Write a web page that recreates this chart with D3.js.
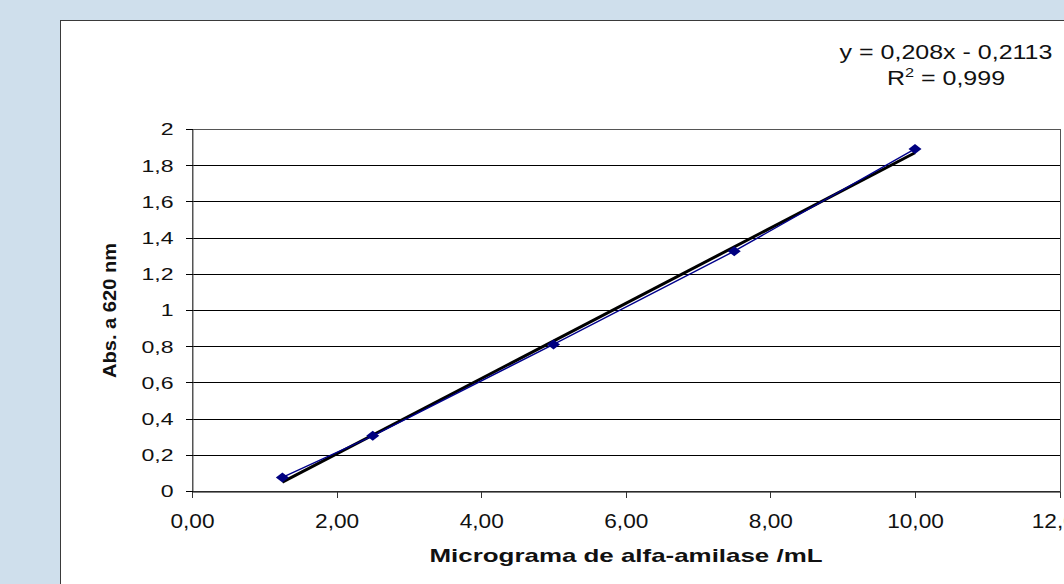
<!DOCTYPE html>
<html>
<head>
<meta charset="utf-8">
<script src="https://cdn.jsdelivr.net/npm/d3@7"></script>
<style>
  html, body { margin: 0; padding: 0; background: #cfdfec; }
  svg { display: block; font-family: "Liberation Sans", Arial, sans-serif; }
</style>
</head>
<body>
<svg id="chart" width="1064" height="584"></svg>
<script>
// Calibration curve: absorbance at 620 nm vs alpha-amylase concentration
const concentrations = [1.25, 2.5, 5, 7.5, 10];          // µg/mL
const absorbances    = [0.075, 0.305, 0.81, 1.325, 1.89];
const xTicks = [0, 2, 4, 6, 8, 10, 12];
const yTicks = [0, 0.2, 0.4, 0.6, 0.8, 1, 1.2, 1.4, 1.6, 1.8, 2];
const slope = 0.208;
const intercept = -0.2113;
const rSquared = 0.999;

const ptBR = d3.formatLocale({ decimal: ",", thousands: ".", grouping: [3], currency: ["", ""] });
const fmtY = ptBR.format("~g");
const fmtX = ptBR.format(".2f");
const fmtCoef = v => ptBR.format("~g")(v);

const svg = d3.select("#chart");

// chart area
svg.append("rect")
  .attr("x", 60.5).attr("y", 20.5)
  .attr("width", 1100).attr("height", 700)
  .attr("fill", "#ffffff")
  .attr("stroke", "#3a3a3a").attr("stroke-width", 1);

const plot = { left: 192, top: 129, right: 1059.6, bottom: 491 };

const x = d3.scaleLinear().domain([0, 12]).range([plot.left, plot.right]);
const y = d3.scaleLinear().domain([0, 2]).range([plot.bottom, plot.top]);

// horizontal gridlines
svg.append("g")
  .selectAll("line")
  .data(yTicks.filter(v => v > 0))
  .join("line")
  .attr("x1", plot.left).attr("x2", plot.right)
  .attr("y1", d => Math.round(y(d)) + 0.5).attr("y2", d => Math.round(y(d)) + 0.5)
  .attr("stroke", "#000").attr("stroke-width", 1)
  .attr("shape-rendering", "crispEdges");

// plot area border
svg.append("rect")
  .attr("x", plot.left + 0.5).attr("y", Math.round(plot.top) + 0.5)
  .attr("width", plot.right - plot.left).attr("height", plot.bottom - plot.top)
  .attr("fill", "none").attr("stroke", "#555").attr("stroke-width", 1)
  .attr("shape-rendering", "crispEdges");

// y axis
const yAxis = svg.append("g")
  .attr("transform", `translate(${plot.left + 0.5},0)`)
  .call(d3.axisLeft(y).tickValues(yTicks).tickFormat(fmtY).tickSize(7).tickSizeOuter(0));
yAxis.select(".domain").attr("stroke", "#555");
yAxis.selectAll(".tick line").attr("stroke", "#000").attr("shape-rendering", "crispEdges");
yAxis.selectAll(".tick text")
  .attr("x", 0).attr("dy", "0.36em")
  .attr("transform", "translate(-19,0) scale(1.4,1)")
  .attr("text-anchor", "end")
  .attr("font-size", 16.5).attr("fill", "#111")
  .attr("font-family", "Liberation Sans, Arial, sans-serif");

// x axis
const xAxis = svg.append("g")
  .attr("transform", `translate(0,${plot.bottom + 0.5})`)
  .call(d3.axisBottom(x).tickValues(xTicks).tickFormat(fmtX).tickSize(6).tickSizeOuter(0));
xAxis.select(".domain").attr("stroke", "#000");
xAxis.selectAll(".tick line").attr("stroke", "#333").attr("shape-rendering", "crispEdges");
xAxis.selectAll(".tick text")
  .attr("y", 0).attr("dy", 0)
  .attr("transform", "translate(0,36) scale(1.08,1)")
  .attr("text-anchor", "middle")
  .attr("font-size", 21).attr("fill", "#111")
  .attr("font-family", "Liberation Sans, Arial, sans-serif");

// linear trendline
const xMin = d3.min(concentrations), xMax = d3.max(concentrations);
svg.append("line")
  .attr("x1", x(xMin)).attr("y1", y(slope * xMin + intercept))
  .attr("x2", x(xMax)).attr("y2", y(slope * xMax + intercept))
  .attr("stroke", "#000").attr("stroke-width", 3);

// measured series
const pts = concentrations.map((c, i) => [c, absorbances[i]]);
svg.append("path")
  .datum(pts)
  .attr("d", d3.line().x(d => x(d[0])).y(d => y(d[1])))
  .attr("fill", "none").attr("stroke", "#00008b").attr("stroke-width", 1.4);

svg.append("g")
  .selectAll("path")
  .data(pts)
  .join("path")
  .attr("transform", d => `translate(${x(d[0])},${y(d[1])})`)
  .attr("d", "M0,-5L6.5,0L0,5L-6.5,0Z")
  .attr("fill", "#000080");

// regression equation (widened like the rest of the chart text)
const eq = svg.append("g")
  .attr("transform", "translate(946,0) scale(1.25,1)")
  .attr("font-size", 20).attr("fill", "#111");
eq.append("text")
  .attr("x", 0).attr("y", 59)
  .attr("text-anchor", "middle")
  .text(`y = ${fmtCoef(slope)}x - ${fmtCoef(Math.abs(intercept))}`);
const r2 = eq.append("text")
  .attr("x", 0).attr("y", 85)
  .attr("text-anchor", "middle");
r2.append("tspan").text("R");
r2.append("tspan").attr("dy", -8).attr("font-size", 13).text("2");
r2.append("tspan").attr("dy", 8).text(` = ${fmtCoef(rSquared)}`);

// axis titles
svg.append("text")
  .attr("x", 626).attr("y", 562)
  .attr("text-anchor", "middle")
  .attr("font-size", 19).attr("font-weight", "bold").attr("fill", "#111")
  .attr("textLength", 393).attr("lengthAdjust", "spacingAndGlyphs")
  .text("Micrograma de alfa-amilase /mL");

svg.append("text")
  .attr("transform", "translate(116,310.5) rotate(-90)")
  .attr("text-anchor", "middle")
  .attr("font-size", 18).attr("font-weight", "bold").attr("fill", "#111")
  .attr("textLength", 135).attr("lengthAdjust", "spacingAndGlyphs")
  .text("Abs. a 620 nm");
</script>
</body>
</html>
